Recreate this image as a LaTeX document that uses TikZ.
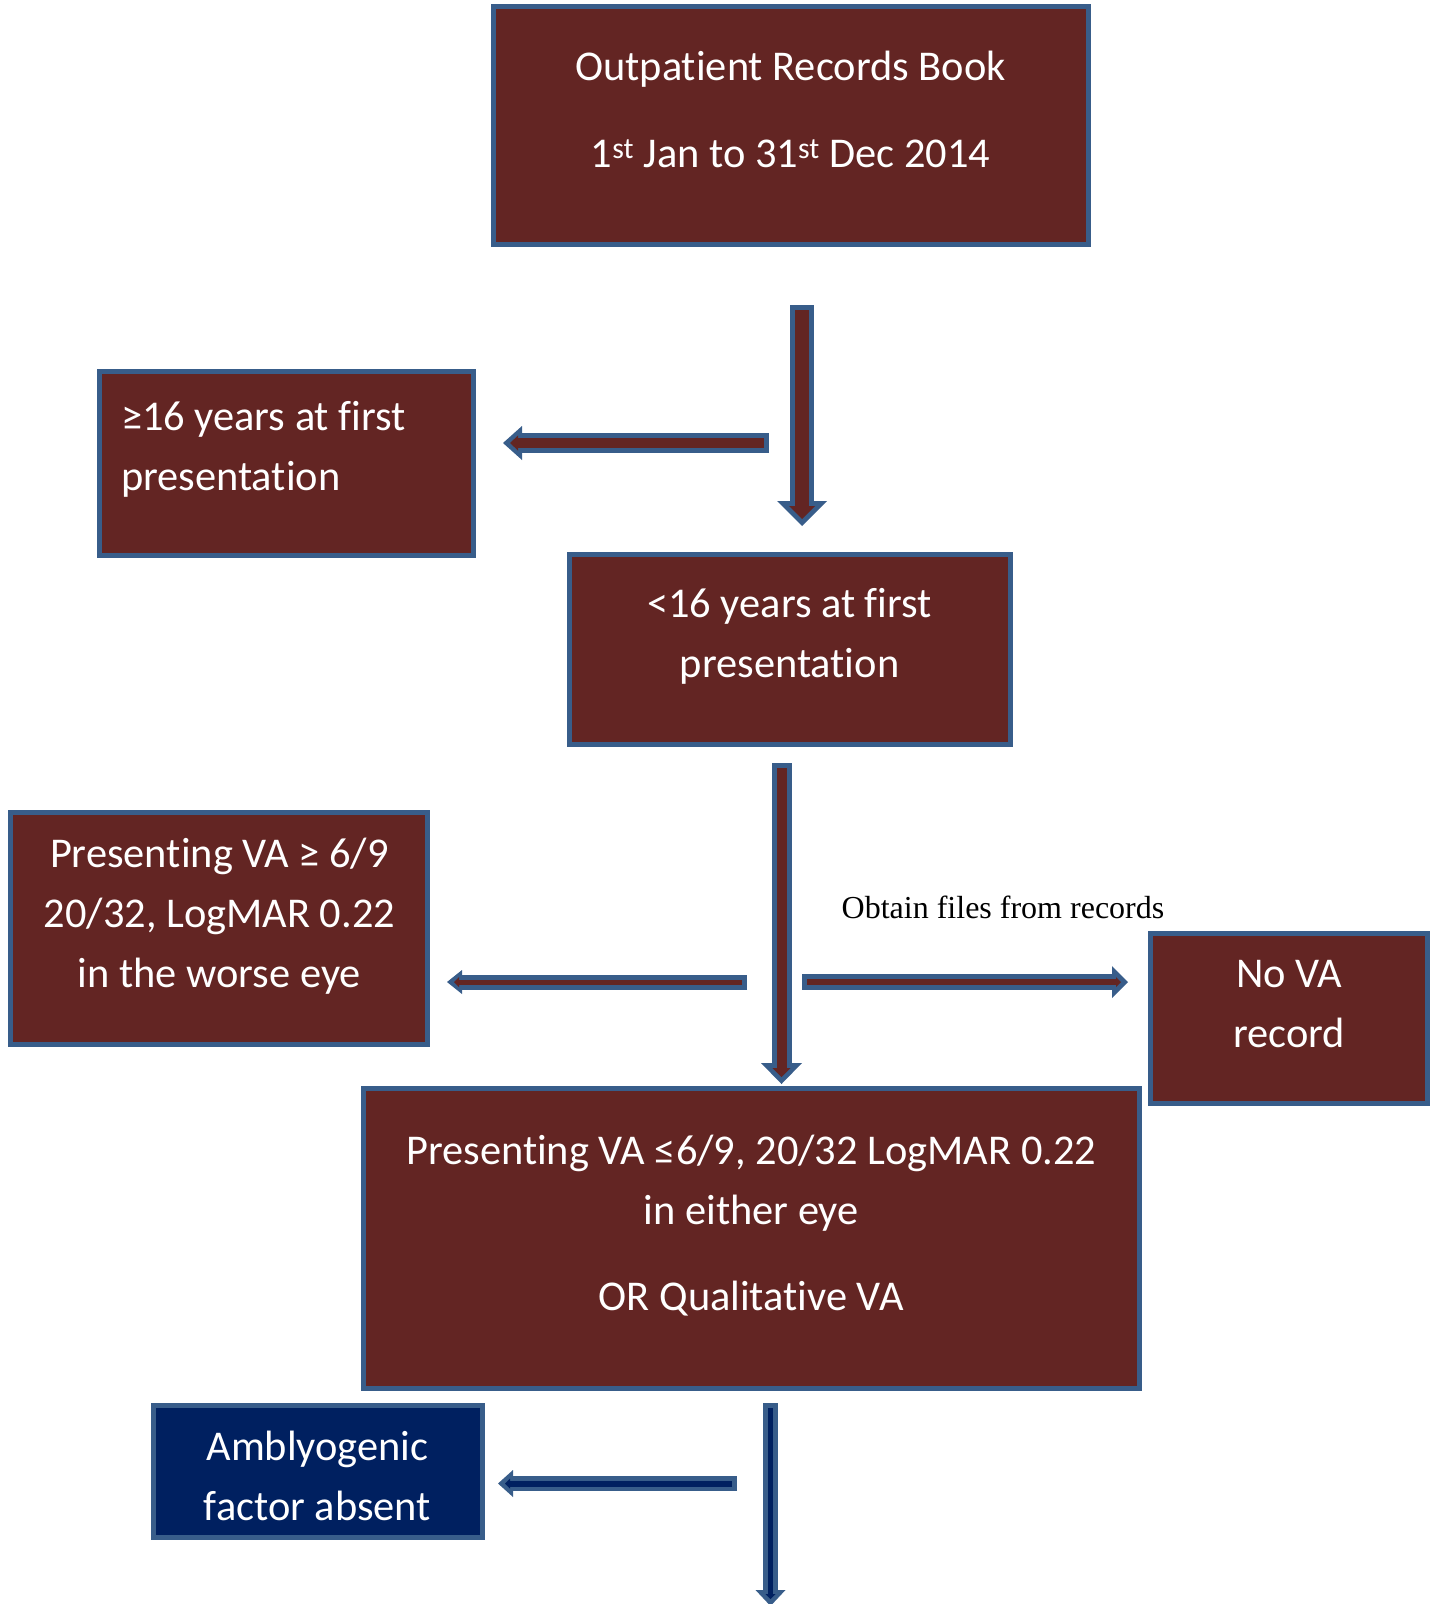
\documentclass[tikz,border=0pt]{standalone}
\usepackage{fontspec}
\setmainfont{Carlito}[Ligatures={NoCommon}]
\newfontfamily\notefont{Liberation Serif}
\usetikzlibrary{arrows.meta, positioning}
\definecolor{vared}{HTML}{632523}
\definecolor{vaedge}{HTML}{385D8A}
\definecolor{vanavy}{HTML}{002060}

\begin{document}
\begin{tikzpicture}[
    x=1pt, y=-1pt,
    box/.style={draw=vaedge, line width=5pt, fill=vared, text=white, align=center,
        font=\fontsize{42.4}{60}\selectfont, inner sep=0pt, text depth=32pt},
    arrowedge/.style n args={3}{draw=vaedge, line width=#1,
        -{Triangle[width=#2, length=#3, line width=0pt]}},
    arrowcore/.style n args={4}{draw=#1, line width=#2, shorten <=5pt, shorten >=7pt,
        -{Triangle[width=#3, length=#4, line width=0pt]}},
]
    \useasboundingbox (0,0) rectangle (1436,1604);

    % boxes
    \node[box, minimum width=595pt, minimum height=238pt] (book) at (790.5,125.5)
        {Outpatient Records Book\\[27pt]1\textsuperscript{st} Jan to 31\textsuperscript{st} Dec 2014};
    \node[box, align=flush left, text width=330pt, inner xsep=22pt, text depth=94pt,
        minimum height=184pt] (adult) at (286,463)
        {≥16 years at first\\presentation};
    \node[box, minimum width=441pt, minimum height=190pt] (child) at (789.6,649)
        {<16 years at first\\presentation};
    \node[box, minimum width=417pt, minimum height=232pt] (goodva) at (219.4,928.7)
        {Presenting VA ≥ 6/9\\20/32, LogMAR 0.22\\in the worse eye};
    \node[box, text depth=29pt, minimum width=277pt, minimum height=170pt] (nova) at (1289,1018)
        {No VA\\record};
    \node[box, minimum width=776pt, minimum height=300pt] (poorva) at (751.2,1238.6)
        {Presenting VA ≤6/9, 20/32 LogMAR 0.22\\in either eye\\[26pt]OR Qualitative VA};
    \node[box, fill=vanavy, text height=98pt, text depth=0pt, minimum width=329pt, minimum height=132pt] (absent) at (317.5,1471)
        {Amblyogenic\\factor absent};

    \node[font=\notefont\fontsize{32}{38}\selectfont] (files) at (1003,907) {Obtain files from records};

    % arrow ends
    \coordinate (a1s) at (802,305);   \coordinate (a1e) at (802,526);
    \coordinate (a2s) at (769,443);   \coordinate (a2e) at (503,443);
    \coordinate (a3s) at (781.5,763); \coordinate (a3e) at (781.5,1084);
    \coordinate (a4s) at (747,982);   \coordinate (a4e) at (447,982);
    \coordinate (a5s) at (802,982);   \coordinate (a5e) at (1128,982);
    \coordinate (a6s) at (737,1483.5); \coordinate (a6e) at (498,1483.5);
    \coordinate (a7s) at (770.5,1403); \coordinate (a7e) at (770.5,1606);

    % records -> under 16
    \draw[arrowedge={24pt}{50pt}{25pt}] (a1s) -- (a1e);
    \draw[arrowcore={vared}{14pt}{26pt}{13pt}] (a1s) -- (a1e);
    % excluded: 16 and over
    \draw[arrowedge={20pt}{34pt}{19pt}] (a2s) -- (a2e);
    \draw[arrowcore={vared}{10pt}{15pt}{8pt}] (a2s) -- (a2e);

    % under 16 -> poor VA
    \draw[arrowedge={20pt}{41pt}{21pt}] (a3s) -- (a3e);
    \draw[arrowcore={vared}{10pt}{18pt}{9pt}] (a3s) -- (a3e);
    % good VA / no record
    \draw[arrowedge={15pt}{24pt}{15pt}] (a4s) -- (a4e);
    \draw[arrowcore={vared}{5pt}{10pt}{5pt}] (a4s) -- (a4e);
    \draw[arrowedge={16pt}{32pt}{16pt}] (a5s) -- (a5e);
    \draw[arrowcore={vared}{6pt}{10pt}{5pt}] (a5s) -- (a5e);

    % poor VA -> amblyogenic factor
    \draw[arrowedge={15pt}{27pt}{15pt}] (a6s) -- (a6e);
    \draw[arrowcore={vanavy}{6pt}{10pt}{5pt}] (a6s) -- (a6e);
    \draw[arrowedge={15pt}{30pt}{16pt}] (a7s) -- (a7e);
    \draw[arrowcore={vanavy}{5pt}{10pt}{5pt}] (a7s) -- (a7e);
\end{tikzpicture}
\end{document}
